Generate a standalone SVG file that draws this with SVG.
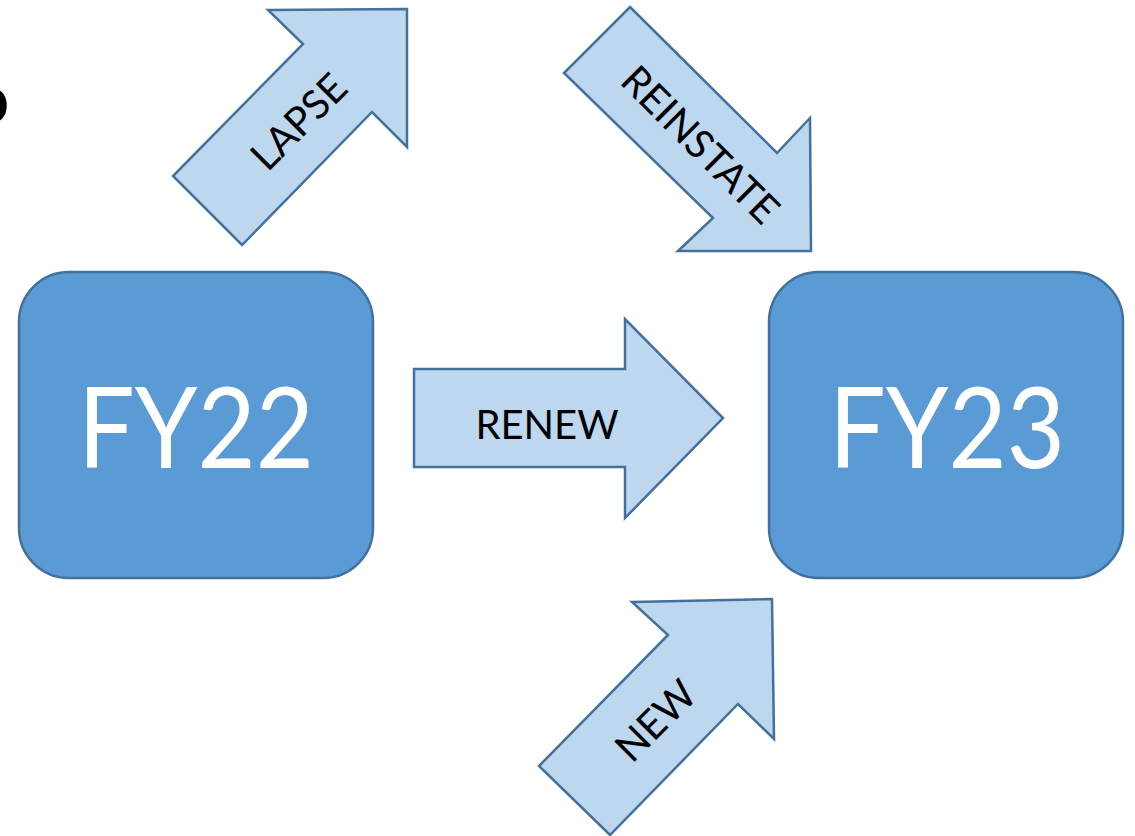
<svg xmlns="http://www.w3.org/2000/svg" width="1135" height="836" viewBox="0 0 1135 836">
<style>
.box{fill:#5B9BD5;stroke:#41719C;stroke-width:2.5}
.arr{fill:#BDD7EE;stroke:#41719C;stroke-width:2.5;stroke-linejoin:miter}
.big{font-family:Lato,"Open Sans",sans-serif;font-size:112px;fill:#fff;text-anchor:middle}
.lbl{font-family:Lato,"Open Sans",sans-serif;font-size:40px;fill:#000;text-anchor:middle;dominant-baseline:central}
</style>
<rect width="1135" height="836" fill="#fff"/>
<text x="9" y="123" font-family="Lato,sans-serif" font-weight="bold" font-size="68" text-anchor="end" fill="#000">o</text>
<g id="connectors">
  <g id="lapse">
    <polygon class="arr" points="268,10 407,9 407,147 372,112 242,245 173,176 303,44"/>
    <text class="lbl" transform="translate(298,121) rotate(-45)">LAPSE</text>
  </g>
  <g id="reinstate">
    <polygon class="arr" points="630,7 777,153 810,118 811,251 678,251 713,218 564,73"/>
    <text class="lbl" transform="translate(701,144) rotate(45)">REINSTATE</text>
  </g>
  <g id="renew">
    <polygon class="arr" points="414,369 625,369 625,319 723,418 625,518 625,467 414,467"/>
    <text class="lbl" x="547" y="424">RENEW</text>
  </g>
  <g id="new">
    <polygon class="arr" points="632,602 772,599 774,739 738,704 610,835 539,766 668,635"/>
    <text class="lbl" transform="translate(655,720) rotate(-45)">NEW</text>
  </g>
</g>
<g id="fy22">
  <rect class="box" x="19" y="272" width="354" height="306" rx="50" ry="50"/>
  <text class="big" x="196" y="468" textLength="236" lengthAdjust="spacingAndGlyphs">FY22</text>
</g>
<g id="fy23">
  <rect class="box" x="769" y="272" width="354" height="306" rx="50" ry="50"/>
  <text class="big" x="947" y="468" textLength="236" lengthAdjust="spacingAndGlyphs">FY23</text>
</g>
</svg>
